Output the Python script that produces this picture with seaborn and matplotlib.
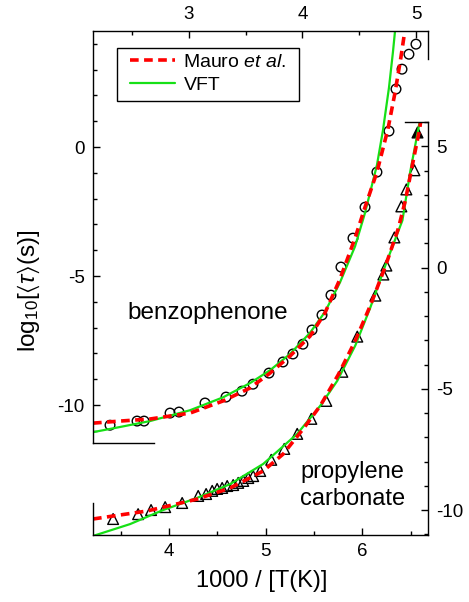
import matplotlib
matplotlib.use("Agg")
import pandas as pd
import matplotlib.pyplot as plt
import seaborn as sns
from matplotlib.ticker import MultipleLocator
from matplotlib.patches import Rectangle

# benzophenone: top x axis (1000/T), left y axis
bz_x = [2.304, 2.542, 2.604, 2.833, 2.912, 3.141, 3.326, 3.467, 3.564, 3.705,
        3.828, 3.916, 4.004, 4.084, 4.172, 4.251, 4.339, 4.445, 4.551, 4.656,
        4.762, 4.824, 4.877, 4.938, 5.000]
bz_y = [-10.78, -10.62, -10.62, -10.31, -10.27, -9.92, -9.69, -9.46, -9.19, -8.76,
        -8.33, -8.02, -7.64, -7.09, -6.51, -5.74, -4.65, -3.53, -2.33, -0.97,
        0.62, 2.25, 3.02, 3.60, 3.99]
bz_mauro_x = [2.154, 2.392, 2.656, 3.009, 3.300, 3.537, 3.714, 3.890, 4.066, 4.198,
              4.330, 4.463, 4.551, 4.656, 4.753, 4.815, 4.868, 4.905]
bz_mauro_y = [-10.70, -10.62, -10.54, -10.31, -9.84, -9.34, -8.76, -8.10, -7.33, -6.43,
              -5.12, -3.53, -2.33, -0.97, 0.70, 2.10, 3.50, 4.60]
bz_vft_x = [2.154, 2.392, 2.656, 3.009, 3.300, 3.537, 3.714, 3.890, 4.066, 4.198,
            4.330, 4.463, 4.551, 4.656, 4.709, 4.762, 4.797, 4.820]
bz_vft_y = [-11.05, -10.85, -10.62, -10.20, -9.70, -9.15, -8.65, -8.02, -7.20, -6.39,
            -5.25, -3.85, -2.55, -0.70, 0.65, 2.30, 3.68, 4.70]

# propylene carbonate: bottom x axis (1000/T), right y axis
pc_x = [3.420, 3.679, 3.813, 3.959, 4.135, 4.301, 4.383, 4.446, 4.497, 4.549,
        4.601, 4.663, 4.715, 4.767, 4.819, 4.870, 4.943, 5.057, 5.192, 5.326,
        5.472, 5.627, 5.793, 5.948, 6.135, 6.218, 6.249, 6.332, 6.404, 6.456, 6.539]
pc_y = [-10.37, -10.17, -10.00, -9.88, -9.71, -9.42, -9.34, -9.21, -9.13, -9.09,
        -9.01, -8.97, -8.88, -8.80, -8.68, -8.60, -8.39, -7.93, -7.48, -6.86,
        -6.24, -5.50, -4.30, -2.85, -1.16, -0.29, 0.08, 1.24, 2.52, 3.22, 4.01]
pc_last_x = [6.570]
pc_last_y = [5.58]
pc_mauro_x = [3.212, 3.772, 4.290, 4.632, 4.974, 5.181, 5.389, 5.565, 5.751, 5.927,
              6.083, 6.238, 6.373, 6.446, 6.528, 6.591, 6.622]
pc_mauro_y = [-10.37, -10.04, -9.55, -9.09, -8.39, -7.69, -6.65, -5.70, -4.42, -3.02,
              -1.57, 0.04, 1.61, 2.77, 4.42, 5.66, 6.49]
pc_vft_x = [3.212, 3.596, 3.938, 4.290, 4.632, 4.974, 5.326, 5.565, 5.741, 5.927,
            6.083, 6.238, 6.363, 6.415, 6.497, 6.591, 6.622]
pc_vft_y = [-11.07, -10.58, -10.00, -9.50, -8.93, -8.10, -6.86, -5.70, -4.67, -3.22,
            -1.65, 0.08, 1.40, 1.94, 3.97, 5.95, 6.90]

sns.set_theme(style="ticks")
plt.rcParams['font.family'] = ['Liberation Sans', 'DejaVu Sans']
plt.rcParams['axes.unicode_minus'] = False
plt.rcParams['mathtext.fontset'] = 'custom'
plt.rcParams['mathtext.rm'] = 'Liberation Sans'
plt.rcParams['mathtext.it'] = 'Liberation Sans:italic'
plt.rcParams['mathtext.fallback'] = 'stixsans'
for key in ['text.color', 'axes.labelcolor', 'xtick.color', 'ytick.color',
            'xtick.labelcolor', 'ytick.labelcolor']:
    plt.rcParams[key] = 'black'

RED = '#ff0000'
GREEN = '#16e016'
W, H = 469, 602

fig = plt.figure(figsize=(W / 100, H / 100), dpi=100)
ax1 = fig.add_axes([93 / W, 1 - 443 / H, 335 / W, 412 / H])
ax2 = fig.add_axes([93 / W, 1 - 535 / H, 335 / W, 413 / H])
for ax in (ax1, ax2):
    ax.patch.set_visible(False)

# benzophenone
sns.lineplot(x=bz_vft_x, y=bz_vft_y, ax=ax1, color=GREEN, lw=1.6, estimator=None)
sns.lineplot(x=bz_mauro_x, y=bz_mauro_y, ax=ax1, color=RED, lw=2.6,
             linestyle=(0, (2.4, 1.5)), estimator=None)
sns.scatterplot(x=bz_x, y=bz_y, ax=ax1, marker='o', s=48, color='black', linewidth=1.0)
ax1.collections[-1].set_facecolor('none')
ax1.collections[-1].set_edgecolor('black')

# propylene carbonate
sns.lineplot(x=pc_vft_x, y=pc_vft_y, ax=ax2, color=GREEN, lw=1.6, estimator=None)
sns.lineplot(x=pc_mauro_x, y=pc_mauro_y, ax=ax2, color=RED, lw=2.6,
             linestyle=(0, (2.4, 1.5)), estimator=None)
sns.scatterplot(x=pc_x, y=pc_y, ax=ax2, marker='^', s=60, color='black', linewidth=1.0)
ax2.collections[-1].set_facecolor('none')
ax2.collections[-1].set_edgecolor('black')
sns.scatterplot(x=pc_last_x, y=pc_last_y, ax=ax2, marker='^', s=60, color='black',
                edgecolor='black', linewidth=1.0)

# axes 1: top / left
ax1.set_xlim(2.154, 5.106)
ax1.set_ylim(-11.47, 4.5)
ax1.xaxis.tick_top()
ax1.yaxis.tick_left()
ax1.xaxis.set_major_locator(MultipleLocator(1))
ax1.xaxis.set_minor_locator(MultipleLocator(0.5))
ax1.yaxis.set_major_locator(MultipleLocator(5))
ax1.yaxis.set_minor_locator(MultipleLocator(1))
ax1.tick_params(which='both', direction='in', top=True, bottom=False, left=True, right=False,
                labeltop=True, labelbottom=False, labelleft=True, labelright=False,
                labelsize=13.5, width=1.0, color='black')
ax1.tick_params(which='major', length=5, pad=6)
ax1.tick_params(which='minor', length=3)
ax1.spines['bottom'].set_bounds(2.154, 2.69)
ax1.spines['right'].set_bounds(3.4, 4.5)

# axes 2: bottom / right
ax2.set_xlim(3.212, 6.68)
ax2.set_ylim(-11.03, 6.0)
ax2.xaxis.tick_bottom()
ax2.yaxis.tick_right()
ax2.xaxis.set_major_locator(MultipleLocator(1))
ax2.xaxis.set_minor_locator(MultipleLocator(0.5))
ax2.yaxis.set_major_locator(MultipleLocator(5))
ax2.yaxis.set_minor_locator(MultipleLocator(1))
ax2.tick_params(which='both', direction='in', top=False, bottom=True, left=False, right=True,
                labeltop=False, labelbottom=True, labelleft=False, labelright=True,
                labelsize=13.5, width=1.0, color='black')
ax2.tick_params(which='major', length=5, pad=6)
ax2.tick_params(which='minor', length=3)
ax2.spines['left'].set_bounds(-11.03, -9.7)
ax2.spines['top'].set_bounds(6.44, 6.68)

for ax in (ax1, ax2):
    for sp in ax.spines.values():
        sp.set_visible(True)
        sp.set_color('black')
        sp.set_linewidth(1.0)

ax1.set_xlabel('')
ax2.set_ylabel('')
ax1.set_ylabel(r'log$_{10}$[$\langle\tau\rangle$(s)]', fontsize=17.5)
ax1.yaxis.set_label_coords(-0.152, 0.37)
ax2.set_xlabel('1000 / [T(K)]', fontsize=17)
ax2.xaxis.set_label_coords(0.505, -0.085)

ax1.text(2.454, -6.43, 'benzophenone', fontsize=17.5, ha='left', va='center')
ax2.text(5.357, -9.0, 'propylene\ncarbonate', fontsize=17, ha='left', va='center',
         multialignment='left', linespacing=1.3)

# legend: text without frame, box drawn separately
ax1.add_patch(Rectangle((24 / 335, 342 / 412), 182 / 335, 53 / 412, transform=ax1.transAxes,
                        facecolor='white', edgecolor='black', linewidth=1.0, zorder=4))
handles = [ax1.lines[1], ax1.lines[0]]
leg = ax1.legend(handles, [r'Mauro $\it{et\ al.}$', 'VFT'], loc='upper left',
                 bbox_to_anchor=(37 / 335, 390 / 412), borderaxespad=0, borderpad=0,
                 fontsize=14, frameon=False, handlelength=2.3, handletextpad=0.45,
                 labelspacing=0.28)
leg.set_zorder(5)

fig.savefig('out.png', dpi=100)
